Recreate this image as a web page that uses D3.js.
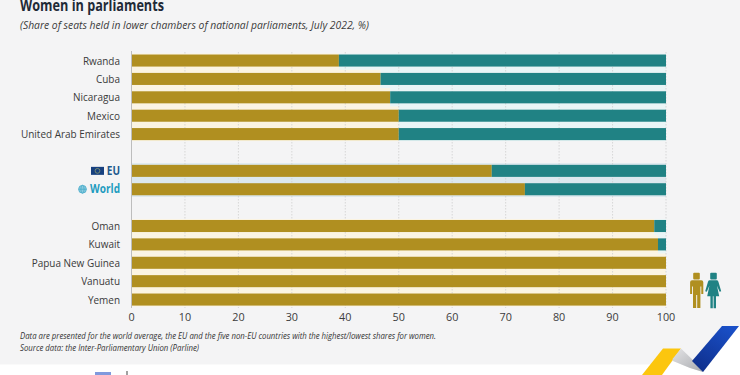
<!DOCTYPE html>
<html><head><meta charset="utf-8">
<script src="https://cdn.jsdelivr.net/npm/d3@7"></script>
<style>html,body{margin:0;padding:0;background:#f4f4f5}svg{display:block}text{font-family:"Open Sans","Noto Sans",sans-serif}</style>
</head><body><svg id="c" width="740" height="375"></svg>
<script>
const categories=["Rwanda","Cuba","Nicaragua","Mexico","United Arab Emirates","_a","EU","World","_b","Oman","Kuwait","Papua New Guinea","Vanuatu","Yemen"];
const womenValues=[38.8,46.6,48.4,50,50,null,67.4,73.6,null,97.8,98.5,100,100,100];
const menValues=[61.2,53.4,51.6,50,50,null,32.6,26.4,null,2.2,1.5,0,0,0];
const tickValues=[0,10,20,30,40,50,60,70,80,90,100];
const titleText="Women in parliaments";
const subtitleText="(Share of seats held in lower chambers of national parliaments, July 2022, %)";
const noteLines=["Data are presented for the world average, the EU and the five non-EU countries with the highest/lowest shares for women.","Source data: the Inter-Parliamentary Union (Parline)"];
const GOLD="#b08f20",TEAL="#208284";
const svg=d3.select("#c");
const x=d3.scaleLinear().domain([0,100]).range([131.5,666]);
const y=d3.scaleBand().domain(categories).range([51.4,308.7]).paddingInner(0.345).paddingOuter(0.17);
const bh=y.bandwidth(),step=y.step();

const defs=svg.append("defs");
function grad(id,a,b,x1,y1,x2,y2){const g=defs.append("linearGradient").attr("id",id).attr("x1",x1).attr("y1",y1).attr("x2",x2).attr("y2",y2);
 g.append("stop").attr("offset","0").attr("stop-color",a);g.append("stop").attr("offset","1").attr("stop-color",b);}
grad("gBlue","#1a50c8","#0f2f8c",.8,0,.2,1);
grad("gGrey","#e4e4e6","#a8aaae",0,0,1,1);

// white page foot and corner behind the logo
svg.append("polygon").attr("points","0,364.5 652,364.5 644,375 0,375").attr("fill","#fff");
svg.append("polygon").attr("points","660,375 673,361 690,368 703,372 739,326 740,326 740,375").attr("fill","#fff");
svg.append("rect").attr("x",95).attr("y",372).attr("width",16).attr("height",3).attr("fill","#8099dd");
svg.append("rect").attr("x",126.5).attr("y",371).attr("width",1).attr("height",4).attr("fill","#444");

// highlight band for EU / World
svg.append("rect").attr("x",x(0)).attr("width",x(100)-x(0)).attr("y",y("EU")-1.7).attr("height",y("World")+bh+3.4-y("EU")).attr("fill","#dce8ee");

// pale halos: full gap between neighbouring rows, thin on the outer side
categories.forEach((c,i)=>{ if(womenValues[i]===null||c==="EU"||c==="World")return;
 const up=(i>0&&womenValues[i-1]!==null)?(step-bh)/2:1, dn=(i<categories.length-1&&womenValues[i+1]!==null)?(step-bh)/2:1;
 const t=y(c)-up,h=bh+up+dn;
 svg.append("rect").attr("x",x(0)).attr("width",x(womenValues[i])-x(0)).attr("y",t).attr("height",h).attr("fill","#fbf4e2");
 svg.append("rect").attr("x",x(womenValues[i])).attr("width",x(100)-x(womenValues[i])).attr("y",t).attr("height",h).attr("fill","#e9f5f6");
});

// grid
svg.append("g").selectAll("line").data(tickValues.slice(1)).join("line")
 .attr("x1",d=>x(d)).attr("x2",d=>x(d)).attr("y1",52).attr("y2",308)
 .attr("stroke","#cfcfcf").attr("stroke-width",.8).attr("stroke-dasharray","1.5 1.5");

// bars
const rows=categories.map((c,i)=>({c,w:womenValues[i],m:menValues[i]})).filter(d=>d.w!==null);
svg.append("g").selectAll("rect").data(rows).join("rect").attr("x",x(0)).attr("y",d=>y(d.c)).attr("width",d=>x(d.w)-x(0)).attr("height",bh).attr("fill",GOLD);
svg.append("g").selectAll("rect").data(rows).join("rect").attr("x",d=>x(d.w)).attr("y",d=>y(d.c)).attr("width",d=>x(d.w+d.m)-x(d.w)).attr("height",bh).attr("fill",TEAL);

// axis line
svg.append("line").attr("x1",131.5).attr("x2",131.5).attr("y1",51).attr("y2",308).attr("stroke","#bdbdbd");

// tick labels
svg.append("g").selectAll("text").data(tickValues).join("text").attr("x",d=>x(d)).attr("y",320.5).attr("text-anchor","middle")
 .attr("font-size",10.8).attr("fill","#3c3c3c").text(d=>d);

// category labels, condensed to the reference's measure
const labels=svg.append("g").selectAll("text").data(rows).join("text").attr("x",120).attr("y",d=>y(d.c)+bh/2+4)
 .attr("text-anchor","end").attr("font-size",d=>(d.c==="EU"||d.c==="World")?11.5:11.4)
 .attr("font-weight",d=>(d.c==="EU"||d.c==="World")?700:400)
 .attr("fill",d=>d.c==="EU"?"#1f5a8e":d.c==="World"?"#1e9cc0":"#3a3a3a").text(d=>d.c);
let k=1;labels.filter(d=>d.c==="United Arab Emirates").each(function(){k=99/this.getComputedTextLength();});
labels.each(function(){const n=this.getComputedTextLength();d3.select(this).attr("textLength",n*k).attr("lengthAdjust","spacingAndGlyphs");});

// EU flag
const ey=y("EU")+bh/2;
svg.append("rect").attr("x",91).attr("y",ey-4).attr("width",13).attr("height",8).attr("fill","#17407f");
svg.append("circle").attr("cx",97.5).attr("cy",ey).attr("r",2.4).attr("fill","none").attr("stroke","#9aa66a").attr("stroke-width",.7);
// globe
const wy=y("World")+bh/2;
const gl=svg.append("g").attr("stroke","#3fa8c8").attr("fill","none").attr("stroke-width",.7);
gl.append("circle").attr("cx",82.5).attr("cy",wy).attr("r",3.9).attr("fill","#8ccbde");
gl.append("ellipse").attr("cx",82.5).attr("cy",wy).attr("rx",1.6).attr("ry",3.9);
gl.append("line").attr("x1",78.6).attr("x2",86.4).attr("y1",wy).attr("y2",wy);

// title etc
svg.append("text").attr("x",20).attr("y",10.5).attr("font-size",16.5).attr("font-weight",700).attr("fill","#1f2a37").attr("textLength",144).attr("lengthAdjust","spacingAndGlyphs").text(titleText);
svg.append("text").attr("x",20).attr("y",29).attr("font-size",11).attr("font-style","italic").attr("fill","#3a3a3a").attr("textLength",349).attr("lengthAdjust","spacingAndGlyphs").text(subtitleText);
noteLines.forEach((t,i)=>svg.append("text").attr("x",20).attr("y",339+i*11.6).attr("font-size",9.8).attr("font-style","italic").attr("fill","#333")
 .attr("textLength",i?179:416).attr("lengthAdjust","spacingAndGlyphs").text(t));

// people icons
function person(px,col,female){const g=svg.append("g").attr("fill",col);
 g.append("rect").attr("x",px-3.3).attr("y",272.8).attr("width",6.6).attr("height",6.6).attr("rx",1);
 if(female){g.append("path").attr("d",`M${px-3.2} 280.3h6.4q1.2 0 1.7 1.4l2.8 9.6-1.6.5-2.6-6 2.2 10.5h-3.2v12h-2.4v-12h-.8v12h-2.4v-12h-3.2l2.2-10.5-2.6 6-1.6-.5 2.8-9.6q.5-1.4 1.7-1.4z`);}
 else{g.append("path").attr("d",`M${px-4.8} 280.3h9.6q2 0 2 2v11.7h-2v-7.5h-.9v21.5h-3.2v-13h-1v13h-3.2v-21.5h-.9v7.5h-2v-11.7q0-2 2-2z`);}
}
person(696.5,GOLD,false);person(713.5,TEAL,true);

// corner logo
svg.append("polygon").attr("points","642,375 663,348.5 681,348.5 662,375").attr("fill","#fcc60e");
svg.append("polygon").attr("points","681,348.5 696,363 703,372 690,368 673,361 672.5,359").attr("fill","url(#gGrey)");
svg.append("polygon").attr("points","692,361 722,326 739,326 703,372").attr("fill","url(#gBlue)");
</script></body></html>
